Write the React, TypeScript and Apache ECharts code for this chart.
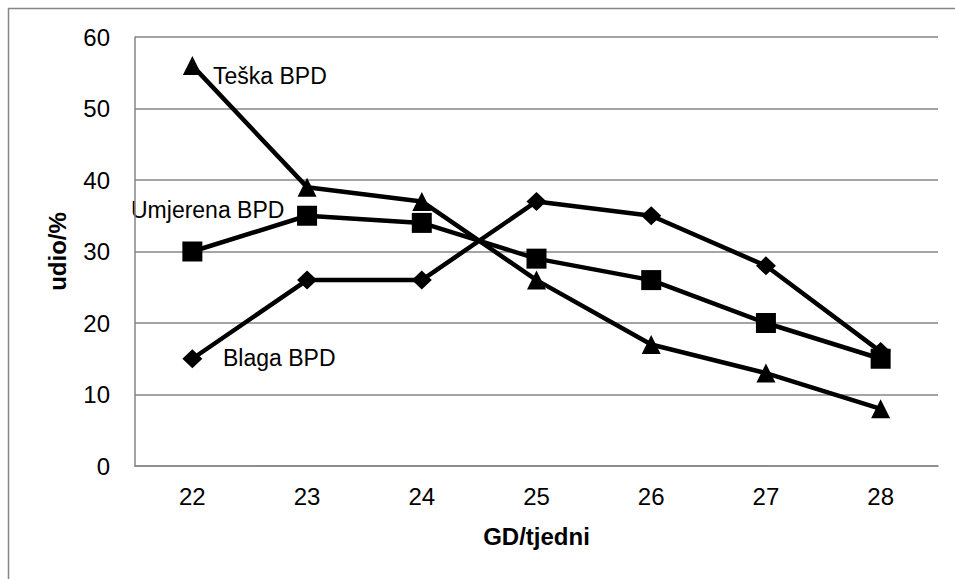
import React, { useEffect, useRef } from "react";
import * as echarts from "echarts";

const categories = ["22", "23", "24", "25", "26", "27", "28"];
const teska = [56, 39, 37, 26, 17, 13, 8];
const umjerena = [30, 35, 34, 29, 26, 20, 15];
const blaga = [15, 26, 26, 37, 35, 28, 16];
const seriesNames = ["Teška BPD", "Umjerena BPD", "Blaga BPD"];
const yTicks = { min: 0, max: 60, interval: 10 };

export default function App() {
  const ref = useRef<HTMLDivElement>(null);
  useEffect(() => {
    if (!ref.current) return;
    const chart = echarts.init(ref.current, null, { renderer: "svg" });
    const font = "Arial";
    const lineStyle = { color: "#000", width: 4.5 };
    chart.setOption({
      animation: false,
      backgroundColor: "#fff",
      textStyle: { fontFamily: font },
      grid: { left: 135, right: 17, top: 37, bottom: 113 },
      xAxis: {
        type: "category",
        data: categories,
        boundaryGap: true,
        name: "GD/tjedni",
        nameLocation: "middle",
        nameGap: 58,
        nameTextStyle: { fontSize: 24, fontWeight: "bold", color: "#000", fontFamily: font },
        axisLine: { lineStyle: { color: "#868686", width: 1.5 } },
        axisTick: { show: false },
        axisLabel: { fontSize: 24, color: "#000", margin: 18, fontFamily: font },
      },
      yAxis: {
        type: "value",
        min: yTicks.min,
        max: yTicks.max,
        interval: yTicks.interval,
        name: "udio/%",
        nameLocation: "middle",
        nameGap: 66,
        nameTextStyle: { fontSize: 24, fontWeight: "bold", color: "#000", fontFamily: font },
        axisLine: { show: true, lineStyle: { color: "#868686", width: 1.5 } },
        axisTick: { show: false },
        axisLabel: { fontSize: 24, color: "#000", margin: 25, fontFamily: font },
        splitLine: { lineStyle: { color: "#868686", width: 1.5 } },
      },
      series: [
        {
          name: seriesNames[0],
          type: "line",
          data: teska,
          symbol: "triangle",
          symbolSize: 19,
          lineStyle,
          itemStyle: { color: "#000" },
        },
        {
          name: seriesNames[1],
          type: "line",
          data: umjerena,
          symbol: "rect",
          symbolSize: 20,
          lineStyle,
          itemStyle: { color: "#000" },
        },
        {
          name: seriesNames[2],
          type: "line",
          data: blaga,
          symbol: "diamond",
          symbolSize: [20, 19],
          lineStyle,
          itemStyle: { color: "#000" },
        },
      ],
      graphic: [
        {
          type: "rect",
          shape: { x: 8.5, y: 8.5, width: 1200, height: 1200 },
          style: { fill: "none", stroke: "#868686", lineWidth: 1.5 },
          silent: true,
        },
        {
          type: "text",
          x: 213,
          y: 76,
          style: { text: seriesNames[0], fontSize: 23, fill: "#000", fontFamily: font, verticalAlign: "middle" },
        },
        {
          type: "text",
          x: 131,
          y: 210,
          style: { text: seriesNames[1], fontSize: 23, fill: "#000", fontFamily: font, verticalAlign: "middle" },
        },
        {
          type: "text",
          x: 223,
          y: 358,
          style: { text: seriesNames[2], fontSize: 23, fill: "#000", fontFamily: font, verticalAlign: "middle" },
        },
      ],
    });
    return () => chart.dispose();
  }, []);
  return (
    <div
      ref={ref}
      style={{ position: "absolute", left: 0, top: 0, width: 955, height: 579 }}
    />
  );
}
